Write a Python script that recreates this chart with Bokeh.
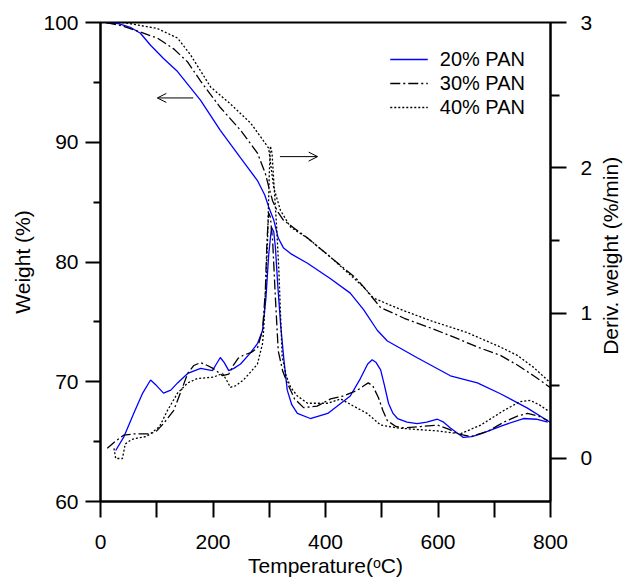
import math
from bokeh.plotting import figure
from bokeh.layouts import row
from bokeh.models import (Range1d, LinearAxis, FixedTicker, Legend, LegendItem,
                          Arrow, OpenHead)
from bokeh.core.properties import value
from bokeh.embed import file_html
from bokeh.resources import INLINE

# ---------------- data ----------------
# TG curves: weight (%) vs temperature (C)
tg20_t = [10, 32, 53, 71, 89, 112, 137, 178, 213, 249, 279, 292, 299, 308, 316, 325, 338,
          368, 409, 444, 468, 492, 510, 533, 563, 622, 670, 711, 759, 800]
tg20_w = [100, 99.9, 99.6, 99.1, 98.1, 97.0, 95.9, 93.5, 91.0, 88.7, 86.8, 85.6, 84.6, 83.5,
          82.0, 81.2, 80.7, 79.9, 78.6, 77.4, 76.0, 74.3, 73.4, 72.8, 72.0, 70.5, 69.9, 69.0,
          67.8, 66.6]

tg30_t = [10, 36, 71, 101, 130, 155, 178, 213, 249, 279, 293, 299, 306, 315, 325, 345, 368,
          409, 453, 468, 498, 540, 592, 640, 670, 711, 741, 770, 800]
tg30_w = [100, 99.75, 99.2, 98.7, 97.8, 96.7, 95.1, 92.9, 91.0, 89.1, 87.4, 86.3, 85.1, 84.2,
          83.5, 82.8, 82.0, 80.4, 78.7, 77.9, 76.2, 75.3, 74.4, 73.5, 72.9, 72.2, 71.4, 70.5,
          69.5]

tg40_t = [10, 41, 101, 137, 160, 196, 231, 267, 290, 299, 303, 308, 320, 338, 368, 409, 468,
          485, 530, 587, 652, 711, 741, 770, 800]
tg40_w = [100, 100, 99.5, 98.7, 97.3, 94.6, 93.2, 91.6, 90.1, 89.5, 88.0, 86.2, 84.3, 82.9,
          82.0, 80.4, 77.9, 77.0, 76.1, 75.1, 74.1, 72.9, 72.2, 71.2, 69.9]

# DTG curves: derivative weight (%/min) vs temperature (C)
dtg20_t = [27, 41, 59, 75, 89, 100, 112, 125, 137, 155, 178, 199, 206, 213, 220, 228, 237,
           249, 265, 279, 288, 294, 299, 304, 308, 311, 315, 320, 326, 332, 340, 350, 373,
           404, 444, 462, 475, 483, 490, 498, 505, 512, 520, 528, 545, 563, 580, 599, 610,
           622, 645, 660, 676, 717, 752, 775, 795]
dtg20_d = [0.055, 0.145, 0.31, 0.45, 0.54, 0.50, 0.45, 0.47, 0.52, 0.585, 0.62, 0.605, 0.65,
           0.695, 0.66, 0.605, 0.62, 0.65, 0.72, 0.79, 0.88, 1.1, 1.4, 1.59, 1.56, 1.45, 1.2,
           0.93, 0.68, 0.47, 0.37, 0.31, 0.275, 0.31, 0.43, 0.55, 0.65, 0.68, 0.66, 0.61, 0.5,
           0.38, 0.31, 0.275, 0.25, 0.24, 0.25, 0.27, 0.25, 0.21, 0.145, 0.15, 0.17, 0.23,
           0.275, 0.27, 0.25]

dtg30_t = [12, 27, 41, 60, 89, 100, 112, 130, 142, 155, 166, 178, 190, 200, 217, 228, 236,
           245, 254, 268, 279, 288, 293, 296, 299, 302, 306, 311, 316, 324, 332, 345, 361,
           385, 409, 432, 457, 468, 476, 484, 494, 502, 510, 525, 539, 570, 599, 620, 635,
           658, 690, 717, 740, 759, 780, 795]
dtg30_d = [0.07, 0.12, 0.16, 0.17, 0.17, 0.19, 0.24, 0.33, 0.45, 0.585, 0.64, 0.66, 0.64,
           0.62, 0.57, 0.58, 0.64, 0.69, 0.71, 0.73, 0.76, 0.88, 1.15, 1.5, 1.69, 1.66, 1.50,
           1.1, 0.74, 0.6, 0.52, 0.41, 0.35, 0.36, 0.41, 0.43, 0.47, 0.50, 0.52, 0.50, 0.42,
           0.33, 0.26, 0.22, 0.21, 0.22, 0.23, 0.20, 0.17, 0.15, 0.19, 0.25, 0.29, 0.31, 0.29,
           0.26]

dtg40_t = [24, 27, 39, 44, 55, 65, 80, 89, 105, 119, 137, 155, 172, 201, 217, 224, 231, 240,
           254, 268, 279, 288, 290, 294, 297, 300, 302, 305, 309, 313, 317, 320, 323, 330,
           338, 350, 368, 404, 427, 450, 474, 498, 528, 560, 599, 640, 676, 717, 745, 764,
           780, 795]
dtg40_d = [0.07, 0.0, 0.0, 0.10, 0.13, 0.14, 0.15, 0.17, 0.22, 0.33, 0.45, 0.52, 0.55, 0.56,
           0.585, 0.54, 0.49, 0.50, 0.54, 0.60, 0.65, 0.79, 0.88, 1.2, 1.5, 1.95, 2.15, 2.1,
           1.85, 1.6, 1.3, 1.0, 0.70, 0.57, 0.49, 0.43, 0.38, 0.38, 0.41, 0.36, 0.31, 0.23,
           0.21, 0.20, 0.19, 0.17, 0.23, 0.33, 0.39, 0.40, 0.37, 0.33]

series_labels = ["20% PAN", "30% PAN", "40% PAN"]

# axis ticks
x_ticks = [0, 200, 400, 600, 800]
x_minor = [100, 300, 500, 700]
w_ticks = [60, 70, 80, 90, 100]
w_minor = [65, 75, 85, 95]
d_ticks = [0, 1, 2, 3]
d_minor = [0.5, 1.5, 2.5]

# arrow annotations (data coordinates: temperature, weight)
arrow_left = dict(x0=165, x1=101, y=93.7)
arrow_right = dict(x0=319, x1=386, y=88.8)

x_title = "Temperature(ᵒC)"
y_title = "Weight (%)"
y2_title = "Deriv. weight (%/min)"

# ---------------- figure ----------------
FONT = "Liberation Sans"

p = figure(width=598, height=583, output_backend="svg", toolbar_location=None,
           x_range=Range1d(0, 800), y_range=Range1d(60, 100),
           min_border_left=100, min_border_right=48, min_border_top=22,
           min_border_bottom=82)
p.extra_y_ranges = {"deriv": Range1d(-0.296, 3)}

p.xgrid.visible = False
p.ygrid.visible = False
p.background_fill_color = "white"
p.border_fill_color = "white"
p.outline_line_color = "black"
p.outline_line_width = 2


def style_axis(ax, tick_out, minor_out, standoff, label_standoff):
    ax.axis_line_width = 2
    ax.axis_line_color = "black"
    ax.major_tick_line_width = 2
    ax.minor_tick_line_width = 2
    ax.major_tick_in = 0
    ax.minor_tick_in = 0
    ax.major_tick_out = tick_out
    ax.minor_tick_out = minor_out
    ax.major_label_standoff = standoff
    ax.axis_label_standoff = label_standoff
    ax.major_label_text_font = FONT
    ax.major_label_text_font_size = "21px"
    ax.major_label_text_color = "black"
    ax.axis_label_text_font = FONT
    ax.axis_label_text_font_size = "21px"
    ax.axis_label_text_font_style = "normal"
    ax.axis_label_text_color = "black"


xa = p.xaxis[0]
xa.ticker = FixedTicker(ticks=x_ticks, minor_ticks=x_minor)
xa.axis_label = x_title
style_axis(xa, 16, 16, 17, 2)

ya = p.yaxis[0]
ya.ticker = FixedTicker(ticks=w_ticks, minor_ticks=w_minor)
ya.axis_label = y_title
style_axis(ya, 15, 7, 7, 6)

ry = LinearAxis(y_range_name="deriv",
                ticker=FixedTicker(ticks=d_ticks, minor_ticks=d_minor))
style_axis(ry, 16, 9, 14, 0)
p.add_layout(ry, "right")

BLUE = "#0000ff"
LW = 1.3
DASHDOT = "10 3 2 3"
DOT = "2 2"

# TG curves
r20 = p.line(tg20_t, tg20_w, line_color=BLUE, line_width=LW)
r30 = p.line(tg30_t, tg30_w, line_color="black", line_width=LW, line_dash=DASHDOT)
r40 = p.line(tg40_t, tg40_w, line_color="black", line_width=LW, line_dash=DOT)

# DTG curves
p.line(dtg20_t, dtg20_d, line_color=BLUE, line_width=LW, y_range_name="deriv")
p.line(dtg30_t, dtg30_d, line_color="black", line_width=LW, line_dash=DASHDOT,
       y_range_name="deriv")
p.line(dtg40_t, dtg40_d, line_color="black", line_width=LW, line_dash=DOT,
       y_range_name="deriv")

legend = Legend(items=[LegendItem(label=series_labels[0], renderers=[r20]),
                       LegendItem(label=series_labels[1], renderers=[r30]),
                       LegendItem(label=series_labels[2], renderers=[r40])],
                location="top_right", border_line_color=None,
                background_fill_alpha=0, padding=0, margin=25, spacing=0,
                glyph_width=38, glyph_height=24, label_height=24, label_standoff=12,
                label_text_font=FONT, label_text_font_size="20px",
                label_text_color="black")
p.add_layout(legend)

for a in (arrow_left, arrow_right):
    p.add_layout(Arrow(end=OpenHead(size=9, line_width=1, line_color="black"),
                       x_start=a["x0"], y_start=a["y"], x_end=a["x1"], y_end=a["y"],
                       line_width=1, line_color="black"))

# narrow strip on the right carrying the right-axis title (reads bottom-to-top)
p2 = figure(width=25, height=583, output_backend="svg", toolbar_location=None,
            x_range=Range1d(0, 25), y_range=Range1d(0, 583),
            x_axis_location=None, y_axis_location=None,
            min_border=0, min_border_left=0, min_border_right=0,
            min_border_top=0, min_border_bottom=0)
p2.xgrid.visible = False
p2.ygrid.visible = False
p2.outline_line_color = None
p2.background_fill_color = "white"
p2.border_fill_color = "white"
p2.text(x=[12], y=[299], text=[y2_title], angle=math.pi / 2,
        text_align="center", text_baseline="middle",
        text_font=value(FONT), text_font_size="21px", text_color="black")

layout = row(p, p2, spacing=0)
open("out.html", "w").write(file_html(layout, INLINE))
